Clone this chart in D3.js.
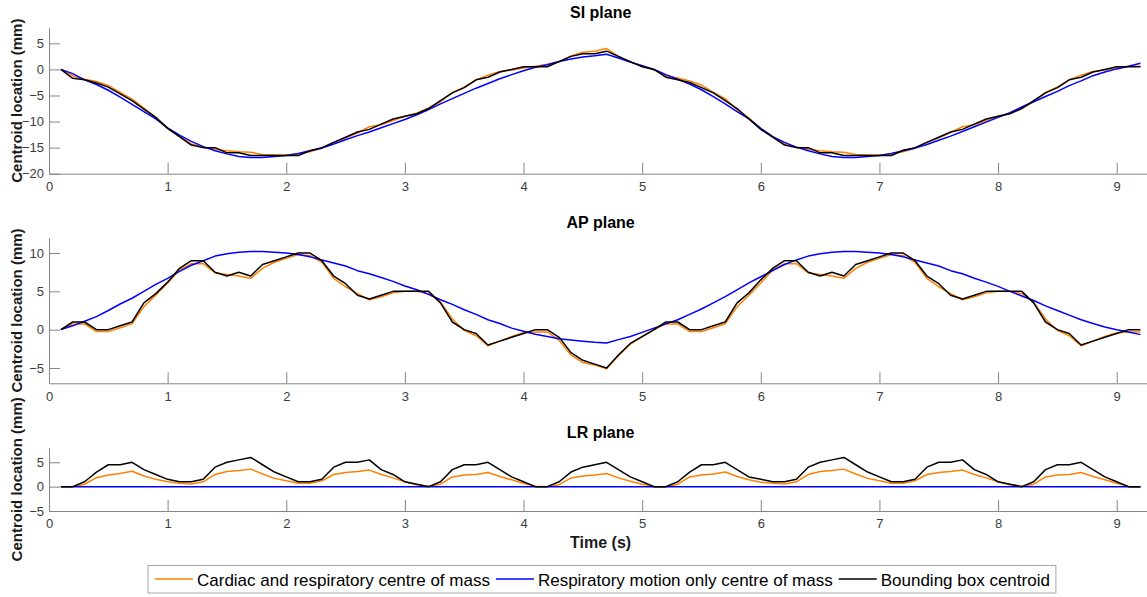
<!DOCTYPE html>
<html>
<head>
<meta charset="utf-8">
<script src="https://cdn.jsdelivr.net/npm/d3@7"></script>
<style>
  html, body { margin: 0; padding: 0; background: #fff; }
  svg { display: block; font-family: "Liberation Sans", Arial, Helvetica, sans-serif; }
</style>
</head>
<body>
<svg id="chart" width="1147" height="597"></svg>
<script>
// Sample times (s)
const time = [
  0.1,0.2,0.3,0.4,0.5,0.6,0.7,0.8,0.9,1.0,
  1.1,1.2,1.3,1.4,1.5,1.6,1.7,1.8,1.9,2.0,
  2.1,2.2,2.3,2.4,2.5,2.6,2.7,2.8,2.9,3.0,
  3.1,3.2,3.3,3.4,3.5,3.6,3.7,3.8,3.9,4.0,
  4.1,4.2,4.3,4.4,4.5,4.6,4.7,4.8,4.9,5.0,
  5.1,5.2,5.3,5.4,5.5,5.6,5.7,5.8,5.9,6.0,
  6.1,6.2,6.3,6.4,6.5,6.6,6.7,6.8,6.9,7.0,
  7.1,7.2,7.3,7.4,7.5,7.6,7.7,7.8,7.9,8.0,
  8.1,8.2,8.3,8.4,8.5,8.6,8.7,8.8,8.9,9.0,
  9.1,9.2
];

// SI plane (mm)
const siCardiacResp = [
  0,-1.2,-1.9,-2.3,-3.1,-4.4,-5.7,-7.4,-9.2,-11.3,
  -12.9,-14.3,-14.9,-15.3,-15.6,-15.8,-15.9,-16.3,-16.4,-16.4,
  -16.2,-15.8,-15.1,-14.0,-13.1,-12.2,-11.0,-10.6,-9.8,-9.0,
  -8.4,-7.4,-6.2,-4.4,-3.4,-2.0,-1.1,-0.4,-0.1,0.25,
  0.6,1.0,1.5,2.6,3.3,3.5,4.0,2.5,1.4,0.7,
  -0.1,-1.2,-1.65,-2.2,-3.0,-4.4,-5.6,-7.75,-9.3,-11.4,
  -12.9,-14.3,-14.9,-15.3,-15.6,-15.8,-15.9,-16.3,-16.4,-16.4,
  -16.2,-15.8,-15.1,-14.0,-13.1,-12.1,-11.0,-10.6,-9.8,-9.0,
  -8.4,-7.4,-6.2,-4.4,-3.4,-2.0,-1.1,-0.4,-0.1,0.25,
  0.6,0.6
];
const siRespOnly = [
  0,-0.8,-2.0,-2.9,-4.0,-5.3,-6.7,-8.1,-9.5,-11.2,
  -12.6,-13.8,-14.8,-15.6,-16.2,-16.7,-16.9,-16.9,-16.7,-16.5,
  -16.1,-15.6,-15.1,-14.3,-13.5,-12.7,-12.0,-11.2,-10.4,-9.6,
  -8.7,-7.7,-6.6,-5.6,-4.6,-3.6,-2.7,-1.8,-1.0,-0.25,
  0.4,0.9,1.5,2.0,2.4,2.6,2.9,2.2,1.4,0.7,
  0.0,-1.0,-1.9,-2.8,-3.9,-5.2,-6.6,-8.1,-9.5,-11.3,
  -12.9,-14.0,-14.9,-15.6,-16.2,-16.7,-16.9,-16.9,-16.7,-16.5,
  -16.1,-15.6,-15.1,-14.4,-13.6,-12.8,-11.9,-11.0,-10.1,-9.2,
  -8.3,-7.2,-6.2,-5.2,-4.2,-3.1,-2.2,-1.2,-0.5,0.1,
  0.6,1.2
];
const siBoundingBox = [
  0,-1.7,-2.0,-2.6,-3.4,-4.7,-6.0,-7.6,-9.2,-11.3,
  -12.9,-14.5,-15.0,-15.0,-16.0,-16.0,-16.5,-16.5,-16.5,-16.5,
  -16.5,-15.6,-15.0,-14.0,-13.0,-12.0,-11.5,-10.5,-9.5,-9.0,
  -8.5,-7.5,-6.0,-4.5,-3.5,-2.0,-1.5,-0.5,0.0,0.5,
  0.5,0.5,1.5,2.5,3.0,3.0,3.5,2.5,1.5,0.5,
  0,-1.5,-2.0,-2.5,-3.5,-4.5,-6.0,-7.5,-9.5,-11.5,
  -13.0,-14.5,-15.0,-15.0,-16.0,-16.0,-16.5,-16.5,-16.5,-16.5,
  -16.5,-15.5,-15.0,-14.0,-13.0,-12.0,-11.5,-10.5,-9.5,-9.0,
  -8.5,-7.5,-6.0,-4.5,-3.5,-2.0,-1.5,-0.5,0.0,0.5,
  0.5,0.5
];

// AP plane (mm)
const apCardiacResp = [
  0,0.75,0.75,-0.25,-0.25,0.25,0.75,3.0,4.5,6.1,
  7.8,8.6,8.6,7.4,7.2,7.0,6.7,8.0,8.8,9.3,
  9.8,9.65,8.8,6.7,5.6,4.7,3.9,4.3,4.8,5.0,
  5.0,4.7,3.6,1.4,-0.1,-0.8,-2.1,-1.5,-0.9,-0.4,
  -0.3,-0.3,-1.4,-3.3,-4.3,-4.6,-5.1,-3.4,-1.9,-0.9,
  0.0,0.75,0.75,-0.25,-0.25,0.25,0.75,3.0,4.5,6.1,
  7.8,8.6,8.6,7.4,7.2,7.0,6.7,8.0,8.8,9.3,
  9.8,9.65,8.8,6.7,5.6,4.7,3.9,4.3,4.8,5.0,
  5.0,4.7,3.6,1.4,-0.1,-0.8,-2.1,-1.5,-0.9,-0.4,
  -0.3,-0.3
];
const apRespOnly = [
  0,0.5,1.1,1.7,2.5,3.35,4.1,5.0,5.9,6.7,
  7.6,8.4,9.0,9.6,9.9,10.1,10.2,10.2,10.1,10.0,
  9.8,9.5,9.1,8.7,8.3,7.7,7.3,6.8,6.3,5.7,
  5.2,4.6,3.9,3.3,2.6,2.0,1.3,0.8,0.2,-0.2,
  -0.6,-0.9,-1.2,-1.35,-1.5,-1.65,-1.75,-1.3,-0.9,-0.35,
  0.2,0.75,1.3,2.0,2.7,3.5,4.3,5.2,6.1,6.9,
  7.7,8.5,9.1,9.6,9.9,10.1,10.2,10.2,10.1,10.0,
  9.8,9.5,9.1,8.7,8.3,7.7,7.3,6.7,6.2,5.65,
  5.0,4.4,3.8,3.1,2.5,1.9,1.3,0.8,0.35,0.0,
  -0.3,-0.65
];
const apBoundingBox = [
  0,1.0,1.0,0,0,0.5,1.0,3.5,4.7,6.2,
  8.0,9.0,9.0,7.5,7.0,7.5,7.0,8.5,9.0,9.5,
  10.0,10.0,9.0,7.0,6.0,4.5,4.0,4.5,5.0,5.0,
  5.0,5.0,3.5,1.0,0.0,-0.5,-2.0,-1.5,-1.0,-0.5,
  0.0,0.0,-1.0,-3.0,-4.0,-4.5,-5.0,-3.3,-1.8,-0.9,
  0,1.0,1.0,0,0,0.5,1.0,3.5,4.8,6.5,
  8.0,9.0,9.0,7.5,7.0,7.5,7.0,8.5,9.0,9.5,
  10.0,10.0,9.0,7.0,6.0,4.5,4.0,4.5,5.0,5.0,
  5.0,5.0,3.5,1.0,0.0,-0.5,-2.0,-1.5,-1.0,-0.5,
  0.0,0.0
];

// LR plane (mm)
const lrCardiacResp = [
  0,0,0.5,1.85,2.4,2.7,3.15,2.2,1.5,1.0,
  0.7,0.55,1.0,2.5,3.1,3.3,3.6,2.6,1.7,1.2,
  0.7,0.7,1.2,2.5,2.9,3.1,3.4,2.5,1.8,1.0,
  0.4,0.1,0.5,2.0,2.4,2.5,2.9,2.1,1.4,0.7,
  0.1,0.0,0.4,1.8,2.2,2.4,2.7,1.8,1.1,0.5,
  0.0,0.0,0.5,2.0,2.4,2.6,3.0,2.1,1.4,0.9,
  0.7,0.55,1.0,2.5,3.1,3.3,3.6,2.6,1.7,1.2,
  0.7,0.7,1.2,2.5,2.9,3.1,3.4,2.5,1.8,1.0,
  0.4,0.1,0.5,2.0,2.4,2.5,2.9,2.1,1.4,0.7,
  0.0,0.0
];
const lrRespOnly = [
  0,0,0,0,0,0,0,0,0,0,
  0,0,0,0,0,0,0,0,0,0,
  0,0,0,0,0,0,0,0,0,0,
  0,0,0,0,0,0,0,0,0,0,
  0,0,0,0,0,0,0,0,0,0,
  0,0,0,0,0,0,0,0,0,0,
  0,0,0,0,0,0,0,0,0,0,
  0,0,0,0,0,0,0,0,0,0,
  0,0,0,0,0,0,0,0,0,0,
  0,0
];
const lrBoundingBox = [
  0,0,1.0,3.0,4.5,4.5,5.0,3.5,2.5,1.5,
  1.0,1.0,1.5,4.0,5.0,5.5,6.0,4.5,3.0,2.0,
  1.0,1.0,1.5,4.0,5.0,5.0,5.5,3.5,2.5,1.0,
  0.5,0,1.0,3.5,4.5,4.5,5.0,3.5,2.0,1.0,
  0,0,1.0,3.0,4.0,4.5,5.0,3.5,2.0,1.0,
  0,0,1.0,3.0,4.5,4.5,5.0,3.5,2.0,1.5,
  1.0,1.0,1.5,4.0,5.0,5.5,6.0,4.5,3.0,2.0,
  1.0,1.0,1.5,4.0,5.0,5.0,5.5,3.5,2.5,1.0,
  0.5,0,1.0,3.5,4.5,4.5,5.0,3.5,2.0,1.0,
  0,0
];

const timeTicks = [0,1,2,3,4,5,6,7,8,9];
const seriesNames = [
  "Cardiac and respiratory centre of mass",
  "Respiratory motion only centre of mass",
  "Bounding box centroid"
];
const seriesColors = ["#ff8000", "#0000ff", "#000000"];

const panels = [
  { title: "SI plane", top: 27.7, bottom: 173.7, yDomain: [-20, 8], yTicks: [-20,-15,-10,-5,0,5],
    series: [siCardiacResp, siRespOnly, siBoundingBox] },
  { title: "AP plane", top: 237.7, bottom: 383.3, yDomain: [-7, 12], yTicks: [-5,0,5,10],
    series: [apCardiacResp, apRespOnly, apBoundingBox] },
  { title: "LR plane", top: 447.7, bottom: 511, yDomain: [-5, 8], yTicks: [-5,0,5],
    series: [lrCardiacResp, lrRespOnly, lrBoundingBox] }
];

const svg = d3.select("#chart");
const axisLeftX = 49, axisRightX = 1152.3;
const x = d3.scaleLinear().domain([0, 9.3]).range([axisLeftX, axisRightX]);
const midX = (axisLeftX + axisRightX) / 2;
const axisColor = "#858585";
const tickTextColor = "#3c3c3c";

panels.forEach(p => {
  const y = d3.scaleLinear().domain(p.yDomain).range([p.bottom, p.top]);
  const g = svg.append("g");

  // left axis, ticks pointing inward
  const ya = g.append("g")
    .attr("transform", `translate(${axisLeftX},0)`)
    .call(d3.axisLeft(y).tickValues(p.yTicks).tickSizeInner(-11).tickSizeOuter(0).tickPadding(5));
  // bottom axis
  const xa = g.append("g")
    .attr("transform", `translate(0,${p.bottom})`)
    .call(d3.axisBottom(x).tickValues(timeTicks).tickSizeInner(-11).tickSizeOuter(0).tickPadding(8));

  [ya, xa].forEach(a => {
    a.select(".domain").attr("stroke", axisColor).attr("stroke-width", 1);
    a.selectAll(".tick line").attr("stroke", axisColor).attr("stroke-width", 1);
    a.selectAll(".tick text").attr("fill", tickTextColor)
      .style("font-size", "13px")
      .style("font-family", '"Liberation Sans", Arial, sans-serif');
  });

  // series lines
  const line = d3.line().x((d, i) => x(time[i])).y(d => y(d));
  p.series.forEach((vals, k) => {
    g.append("path")
      .datum(vals)
      .attr("fill", "none")
      .attr("stroke", seriesColors[k])
      .attr("stroke-width", 1.5)
      .attr("stroke-linejoin", "round")
      .attr("d", line);
  });

  // title
  svg.append("text")
    .attr("x", midX).attr("y", p.top - 10)
    .attr("text-anchor", "middle")
    .style("font-size", "16px").style("font-weight", "bold")
    .attr("fill", "#000")
    .text(p.title);

  // y-axis label
  const cy = (p.top + p.bottom) / 2;
  svg.append("text")
    .attr("transform", `translate(22,${cy}) rotate(-90)`)
    .attr("text-anchor", "middle")
    .style("font-size", "15px").style("font-weight", "bold")
    .attr("fill", "#1a1a1a")
    .text("Centroid location (mm)");
});

// x-axis label
svg.append("text")
  .attr("x", midX).attr("y", 548)
  .attr("text-anchor", "middle")
  .style("font-size", "16px").style("font-weight", "bold")
  .attr("fill", "#1a1a1a")
  .text("Time (s)");

// legend
const legend = svg.append("g");
const legendBox = legend.append("rect")
  .attr("x", 148).attr("y", 565.5).attr("height", 27.5)
  .attr("fill", "#fff").attr("stroke", "#a6a6a6").attr("stroke-width", 1);
let lx = 155;
seriesNames.forEach((name, k) => {
  legend.append("line")
    .attr("x1", lx).attr("x2", lx + 38)
    .attr("y1", 579).attr("y2", 579)
    .attr("stroke", seriesColors[k]).attr("stroke-width", 1.5);
  const t = legend.append("text")
    .attr("x", lx + 42).attr("y", 585.5)
    .style("font-size", "17px")
    .attr("fill", "#000")
    .text(name);
  lx = lx + 42 + t.node().getComputedTextLength() + 6;
});
legendBox.attr("width", lx - 148);
</script>
</body>
</html>
